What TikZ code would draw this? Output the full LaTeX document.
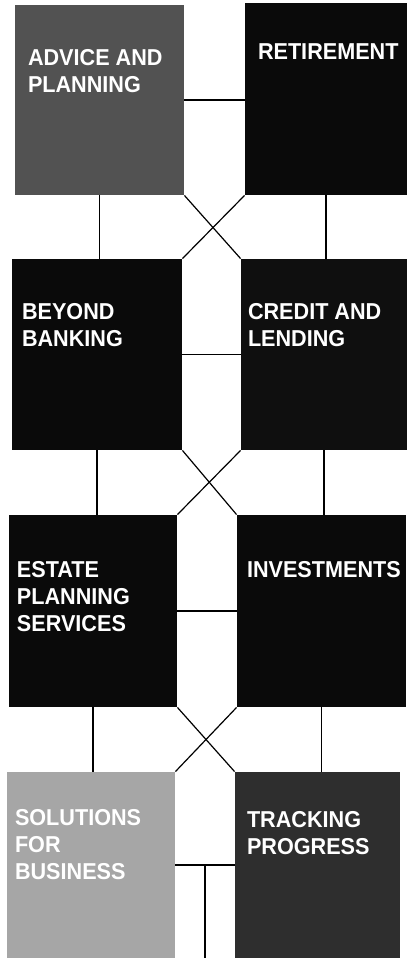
\documentclass[tikz,border=0pt]{standalone}
\usepackage{fontspec}
\setmainfont{Liberation Sans}[FakeStretch=0.94]
\usetikzlibrary{calc,fit}

\tikzset{
	tile/.style={inner sep=0pt, draw=none},
	caption/.style={anchor=north west, inner sep=0pt, text=white, align=left,
		font=\bfseries\fontsize{11.5}{13.6}\selectfont},
	link/.style={line width=0.6pt, black}
}

\begin{document}
\begin{tikzpicture}[x=0.5pt, y=-0.5pt]
			%%%%% START %%%%%
			
			\useasboundingbox (0, 0) rectangle (408, 958);
			
			% first row
			\node[tile, fill=black!68, fit={(15, 5) (184, 195)}] (advice) {};
			\node[tile, fill=black!96, fit={(245, 3) (407, 195)}] (retire) {};
			\node[caption] (advicetxt) at ([shift={(13, 44)}]advice.north west) {ADVICE AND\\PLANNING};
			\node[caption] (retiretxt) at ([shift={(13, 41)}]retire.north west) {RETIREMENT};
			
			% second row
			\node[tile, fill=black!96, fit={(12, 259) (182, 450)}] (beyond) {};
			\node[tile, fill=black!94, fit={(241, 259) (407, 450)}] (credit) {};
			\node[caption] (beyondtxt) at ([shift={(10, 44)}]beyond.north west) {BEYOND\\BANKING};
			\node[caption] (credittxt) at ([shift={(7, 44)}]credit.north west) {CREDIT AND\\LENDING};
			
			% third row
			\node[tile, fill=black!96, fit={(9, 515) (177, 707)}] (estate) {};
			\node[tile, fill=black!96, fit={(237, 515) (406, 707)}] (invest) {};
			\node[caption] (estatetxt) at ([shift={(8, 46)}]estate.north west) {ESTATE\\PLANNING\\SERVICES};
			\node[caption] (investtxt) at ([shift={(10, 46)}]invest.north west) {INVESTMENTS};
			
			% fourth row
			\node[tile, fill=black!35, fit={(7, 772) (175, 958)}] (business) {};
			\node[tile, fill=black!82, fit={(235, 772) (400, 958)}] (tracking) {};
			\node[caption] (businesstxt) at ([shift={(8, 37)}]business.north west) {SOLUTIONS\\FOR\\BUSINESS};
			\node[caption] (trackingtxt) at ([shift={(12, 39)}]tracking.north west) {TRACKING\\PROGRESS};
			
			% links across
			\draw[link] (advice.east) -- (advice.east -| retire.west);
			\draw[link] (beyond.east) -- (beyond.east -| credit.west);
			\draw[link] (estate.east) -- (estate.east -| invest.west);
			\draw[link] (business.east) -- (business.east -| tracking.west);
			\coordinate (stem) at ($(business.east)!0.5!(business.east -| tracking.west)$);
			\draw[link] (stem) -- (stem |- business.south);
			
			% links down
			\draw[link] (advice.south) -- (advice.south |- beyond.north);
			\draw[link] (retire.south) -- (retire.south |- credit.north);
			\draw[link] (beyond.south) -- (beyond.south |- estate.north);
			\draw[link] (credit.south) -- (credit.south |- invest.north);
			\draw[link] (estate.south) -- (estate.south |- business.north);
			\draw[link] (invest.south) -- (invest.south |- tracking.north);
			
			% crossed links
			\draw[link] (advice.south east) -- (credit.north west);
			\draw[link] (retire.south west) -- (beyond.north east);
			\draw[link] (beyond.south east) -- (invest.north west);
			\draw[link] (credit.south west) -- (estate.north east);
			\draw[link] (estate.south east) -- (tracking.north west);
			\draw[link] (invest.south west) -- (business.north east);
			
			%%%%% END %%%%%
		\end{tikzpicture}
\end{document}
